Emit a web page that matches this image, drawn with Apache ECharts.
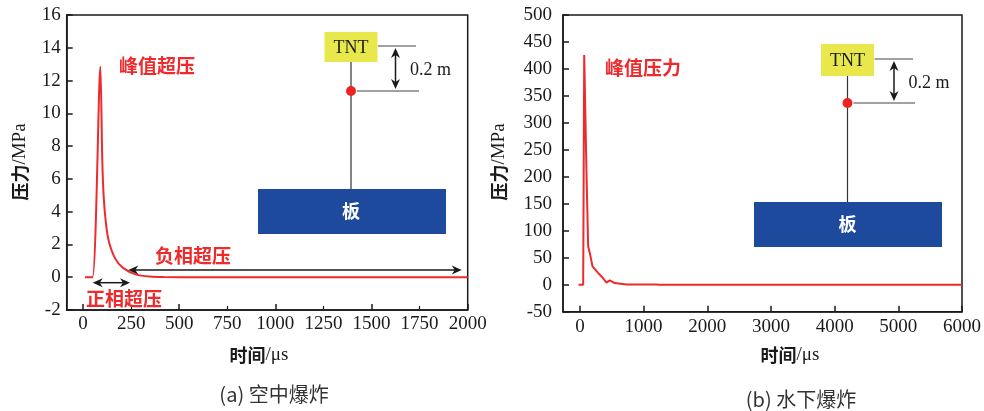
<!DOCTYPE html>
<html><head><meta charset="utf-8">
<script src="https://cdn.jsdelivr.net/npm/echarts@6/dist/echarts.min.js"></script>
<style>html,body{margin:0;padding:0;background:#fff}#c{width:984px;height:411px}</style>
</head><body><div id="c"></div>
<script>
// ---- data (a) air blast ----
const airTime     = [10, 49, 90, 99, 104, 113, 130, 165, 208, 277, 346, 420, 600, 1000, 1500, 2000];
const airPressure = [0, 0, 12.85, 7.7, 5.7, 4.0, 2.4, 1.18, 0.57, 0.16, 0.04, 0.01, 0, 0, 0, 0];
const airXTicks   = [0, 250, 500, 750, 1000, 1250, 1500, 1750, 2000];
const airXMajor   = [0, 500, 1000, 1500, 2000];
const airXMinor   = [250, 750, 1250, 1750];
// ---- data (b) underwater blast ----
const waterTime     = [-20, 52, 68, 104, 130, 156, 198, 286, 365, 417, 469, 547, 730, 1200, 1250, 6000];
const waterPressure = [0, 0, 426, 207, 71, 59, 34, 22, 12, 4, 8, 3, 0.6, 0.5, 0, 0];
const waterXTicks   = [0, 1000, 2000, 3000, 4000, 5000, 6000];

const RED = '#EE2A2C';
const INK = '#1a1a1a';
const SERIF = '"Liberation Serif","Times New Roman",serif';
const CJK = '"Noto Sans CJK SC","Noto Sans",sans-serif';

function zip(a, b) { return a.map((v, i) => [v, b[i]]); }

function head(x, y, dir) {
  const L = 10, W = 4.5;
  let pts;
  if (dir === 'left')  pts = [[x, y], [x + L, y - W], [x + L * 0.7, y], [x + L, y + W]];
  if (dir === 'right') pts = [[x, y], [x - L, y - W], [x - L * 0.7, y], [x - L, y + W]];
  if (dir === 'up')    pts = [[x, y], [x - W, y + L], [x, y + L * 0.7], [x + W, y + L]];
  if (dir === 'down')  pts = [[x, y], [x - W, y - L], [x, y - L * 0.7], [x + W, y - L]];
  return { type: 'polygon', shape: { points: pts }, style: { fill: INK }, z: 100 };
}
function line(x1, y1, x2, y2, w, c) {
  return { type: 'line', shape: { x1, y1, x2, y2 }, style: { stroke: c || '#333', lineWidth: w || 1 }, z: 99 };
}
function text(x, y, t, size, fam, color, weight, rot) {
  return { type: 'text', x, y, rotation: rot || 0, z: 101,
    style: { text: t, fontSize: size, fontFamily: fam, fill: color, fontWeight: weight || 'normal',
             align: 'center', verticalAlign: 'middle' } };
}
function axisName(x, y, cn, en, rot) {
  return { type: 'text', x, y, rotation: rot || 0, z: 101,
    style: { text: '{a|' + cn + '}{b|' + en + '}', align: 'center', verticalAlign: 'middle',
      rich: { a: { fontFamily: CJK, fontSize: 18, fontWeight: 'bold', fill: INK },
              b: { fontFamily: SERIF, fontSize: 19, fill: INK } } } };
}
function diagram(cx, boxTop, boxBot, dotY, lineR1, lineR2, arrowX, plateL, plateR, plateT, plateB) {
  const els = [];
  els.push(line(cx, boxBot, cx, plateT, 1.2, '#333'));
  els.push({ type: 'rect', shape: { x: cx - 26.5, y: boxTop, width: 53, height: boxBot - boxTop }, style: { fill: '#E8E84C' }, z: 100 });
  els.push(text(cx, (boxTop + boxBot) / 2 + 1, 'TNT', 18, SERIF, INK));
  const topY = (boxTop + boxBot) / 2 - 1;
  els.push(line(cx + 27, topY, lineR1, topY, 1.2, '#444'));
  els.push(line(cx + 6, dotY, lineR2, dotY, 1.2, '#444'));
  els.push({ type: 'circle', shape: { cx: cx, cy: dotY, r: 5 }, style: { fill: '#EE2222' }, z: 102 });
  els.push(line(arrowX, topY + 6, arrowX, dotY - 6, 1.5, INK));
  els.push(head(arrowX, topY + 2, 'up'));
  els.push(head(arrowX, dotY - 2, 'down'));
  els.push(text(arrowX + 35, (topY + dotY) / 2 + 2, '0.2 m', 18, SERIF, INK));
  els.push({ type: 'rect', shape: { x: plateL, y: plateT, width: plateR - plateL, height: plateB - plateT }, style: { fill: '#1E4A9E' }, z: 100 });
  els.push(text(cx, (plateT + plateB) / 2, '板', 18, CJK, '#ffffff', 'bold'));
  return els;
}

const graphic = [].concat(
  // axis names and captions
  [axisName(20, 162, '压力', '/MPa', Math.PI / 2),
   axisName(499, 162, '压力', '/MPa', Math.PI / 2),
   axisName(259, 355, '时间', '/μs'),
   axisName(790, 355, '时间', '/μs'),
   text(274, 394, '(a) 空中爆炸', 20, CJK, '#333'),
   text(801, 399, '(b) 水下爆炸', 20, CJK, '#333')],
  // annotations (a)
  [text(157, 66, '峰值超压', 19, CJK, RED, 'bold'),
   text(193, 256, '负相超压', 19, CJK, RED, 'bold'),
   text(124, 299, '正相超压', 19, CJK, RED, 'bold'),
   line(96, 282.7, 127, 282.7, 1.5, INK), head(92.7, 282.7, 'left'), head(130, 282.7, 'right'),
   line(132, 270, 458, 270, 1.3, INK), head(128.3, 270, 'left'), head(461.7, 270, 'right'),
   text(643, 68, '峰值压力', 19, CJK, RED, 'bold')],
  diagram(351, 32, 62, 91, 416, 419, 395.5, 258, 446, 189, 234),
  diagram(847.5, 44, 76, 103, 913, 915, 894, 754, 942, 202, 247)
);

const chart = echarts.init(document.getElementById('c'), null, { renderer: 'canvas' });
const labelStyle = { fontFamily: SERIF, fontSize: 19, color: INK, formatter: v => String(v) };
const axLine = { show: true, onZero: false, lineStyle: { color: INK, width: 1.5 } };
chart.setOption({
  animation: false,
  backgroundColor: '#fff',
  grid: [
    { left: 66.7, top: 15, width: 401, height: 295, show: true, borderColor: INK, borderWidth: 1.5 },
    { left: 563, top: 15, width: 402, height: 296.7, show: true, borderColor: INK, borderWidth: 1.5 }
  ],
  xAxis: [
    { type: 'value', gridIndex: 0, min: -85, max: 2000, axisLine: axLine,
      axisTick: { show: true, inside: true, length: 6, customValues: airXMajor, lineStyle: { color: INK, width: 1.5 } },
      axisLabel: { customValues: airXTicks, margin: 5, ...labelStyle },
      splitLine: { show: false } },
    { type: 'value', gridIndex: 0, min: -85, max: 2000, position: 'bottom',
      axisLine: { show: false, onZero: false },
      axisTick: { show: true, inside: true, length: 4, customValues: airXMinor, lineStyle: { color: INK, width: 1.2 } },
      axisLabel: { show: false }, splitLine: { show: false } },
    { type: 'value', gridIndex: 1, min: -265, max: 6000, axisLine: axLine,
      axisTick: { show: true, inside: true, length: 6, customValues: waterXTicks, lineStyle: { color: INK, width: 1.5 } },
      axisLabel: { customValues: waterXTicks, margin: 6, ...labelStyle },
      splitLine: { show: false } }
  ],
  yAxis: [
    { type: 'value', gridIndex: 0, min: -2, max: 16, interval: 2, axisLine: axLine,
      axisTick: { show: true, inside: true, length: 6, lineStyle: { color: INK, width: 1.5 } },
      axisLabel: { margin: 6, ...labelStyle }, splitLine: { show: false } },
    { type: 'value', gridIndex: 1, min: -50, max: 500, interval: 50, axisLine: axLine,
      axisTick: { show: true, inside: true, length: 6, lineStyle: { color: INK, width: 1.5 } },
      axisLabel: { margin: 11, ...labelStyle }, splitLine: { show: false } }
  ],
  series: [
    { type: 'line', xAxisIndex: 0, yAxisIndex: 0, data: zip(airTime, airPressure), showSymbol: false,
      smooth: 0.25, lineStyle: { color: RED, width: 2 }, z: 5 },
    { type: 'line', xAxisIndex: 2, yAxisIndex: 1, data: zip(waterTime, waterPressure), showSymbol: false,
      lineStyle: { color: RED, width: 2 }, z: 5 }
  ],
  graphic: graphic
});
</script>
</body></html>
